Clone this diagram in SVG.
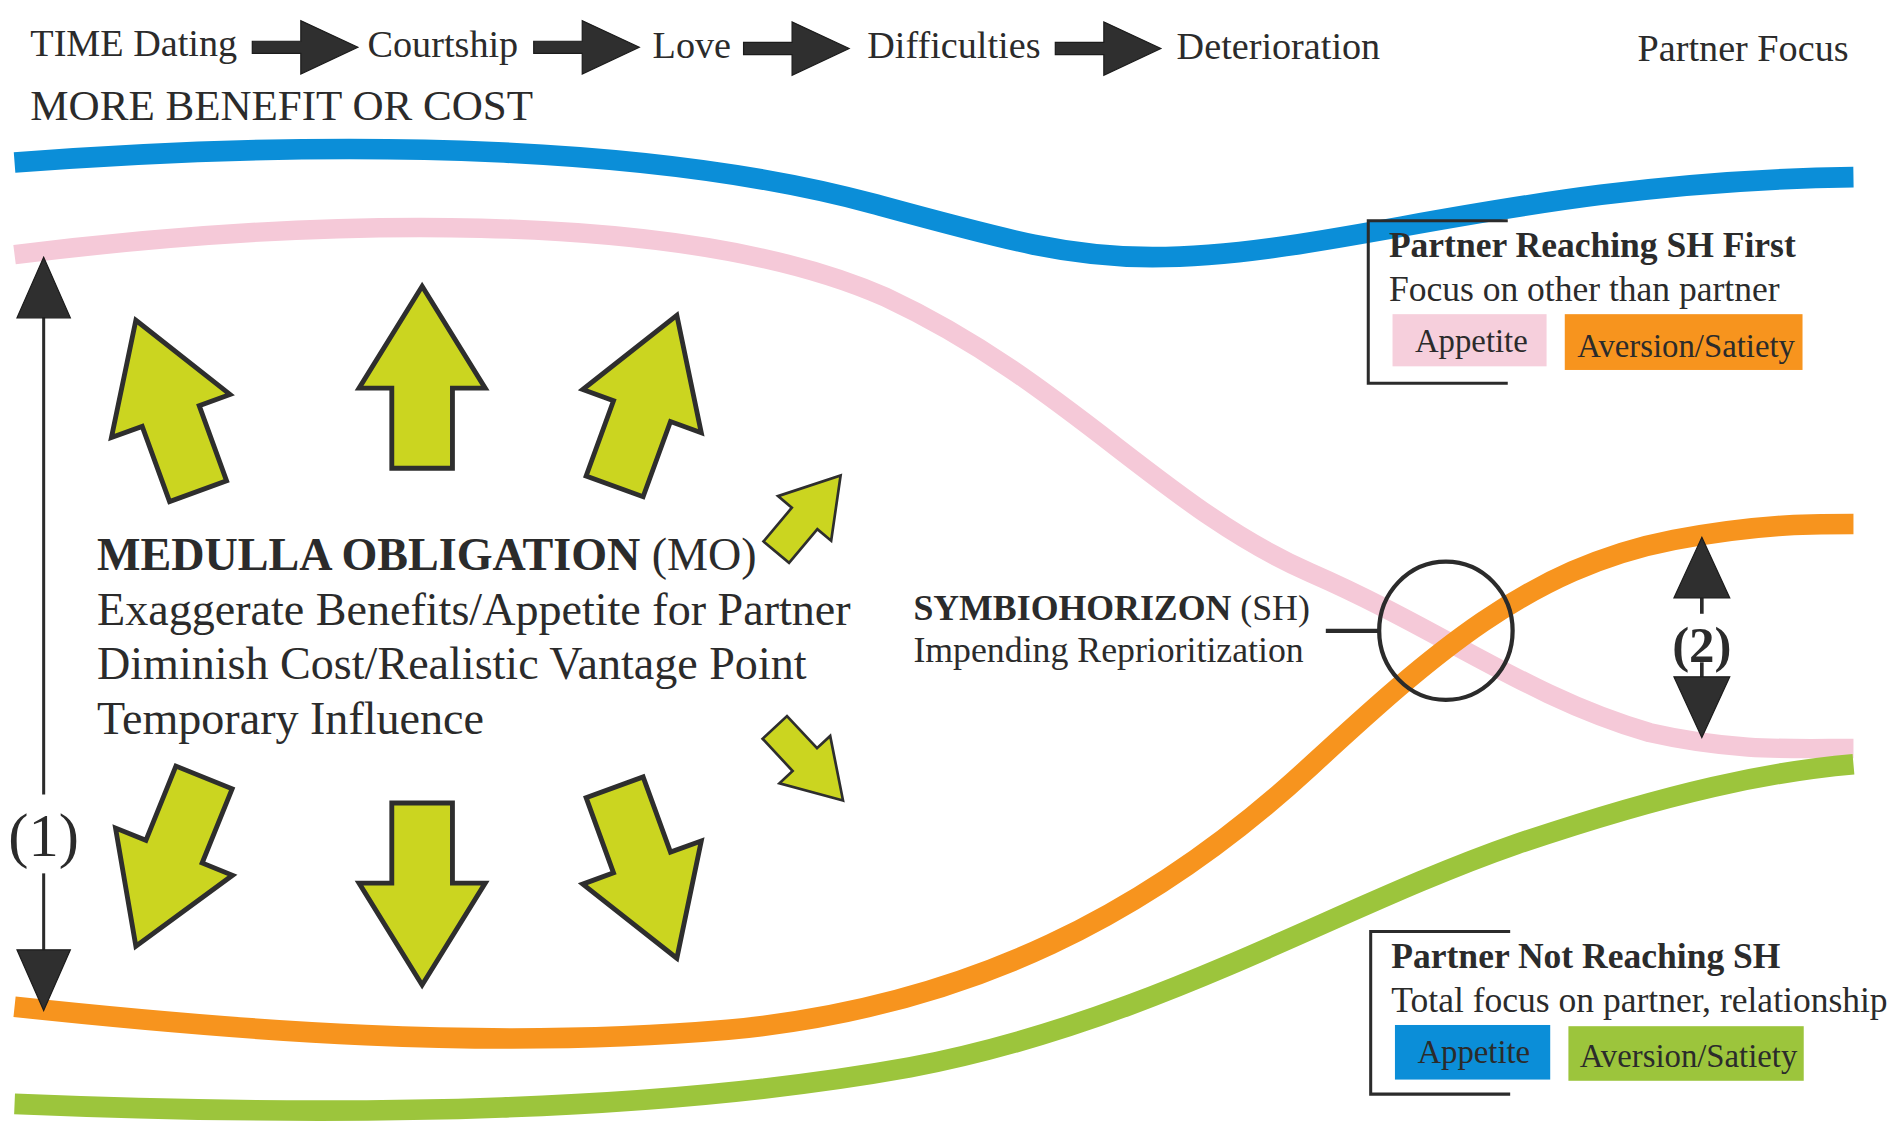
<svg xmlns="http://www.w3.org/2000/svg" width="1902" height="1127" viewBox="0 0 1902 1127">
<defs>
<style>
text{font-family:"Liberation Serif","Times New Roman",serif;fill:#2b2b2b}
.b{font-weight:bold}
.curve{fill:none;stroke-linecap:butt}
.ga{fill:#cbd520;stroke:#2e2e2e;stroke-width:4;stroke-linejoin:miter}
.ta{fill:#2f2f2f;stroke:#1c1c1c;stroke-width:1}
.ln{stroke:#2b2b2b;fill:none}
</style>
<path id="bigArrow" d="M0,0 L52,84 L25,84 L25,150 L-25,150 L-25,84 L-52,84 Z"/>
<path id="tlArrow" d="M0,-5 L40,-5 L40,-22 L87,0 L40,22 L40,5 L0,5 Z"/>
</defs>
<rect width="1902" height="1127" fill="#ffffff"/>
<g transform="scale(1.2130)">
<g id="curves">
<path id="blue-curve" class="curve" stroke="#0b8ed8" stroke-width="17" d="M12,134 C300,112 550,122 720,168 C830,198 880,212 950,212 C1100,212 1250,150 1528,146"/>
<path id="pink-curve" class="curve" stroke="#f5c9d8" stroke-width="16" d="M12,210 C250,180 560,170 730,245 C880,315 960,420 1080,472 C1190,520 1260,575 1360,604 C1430,620 1480,617 1528,617"/>
<path id="orange-curve" class="curve" stroke="#f7941e" stroke-width="17" d="M12,830 C200,850 400,866 600,849 C800,830 950,752 1080,632 C1180,540 1260,468 1380,445 C1450,432 1490,432 1528,432"/>
<path id="green-curve" class="curve" stroke="#9cc53c" stroke-width="17" d="M12,910 C300,922 550,916 750,880 C950,842 1100,748 1250,696 C1380,652 1460,636 1528,630"/>
</g>
<g id="connectors">
<use href="#tlArrow" class="ta" x="208" y="39"/>
<use href="#tlArrow" class="ta" x="440" y="39"/>
<use href="#tlArrow" class="ta" x="613" y="40"/>
<use href="#tlArrow" class="ta" x="870" y="40"/>
<g id="arrow-1">
<line class="ln" x1="36" y1="260" x2="36" y2="655" stroke-width="2.5"/>
<line class="ln" x1="36" y1="720" x2="36" y2="785" stroke-width="2.5"/>
<path class="ta" d="M36,212 L58,262 L14,262 Z"/>
<path class="ta" d="M36,833 L58,783 L14,783 Z"/>
</g>
<g id="arrow-2">
<line class="ln" x1="1403" y1="490" x2="1403" y2="506" stroke-width="3"/>
<line class="ln" x1="1403" y1="546" x2="1403" y2="560" stroke-width="3"/>
<path class="ta" d="M1403,443 L1426,493 L1380,493 Z"/>
<path class="ta" d="M1403,608 L1426,558 L1380,558 Z"/>
</g>
<line id="sh-pointer" class="ln" x1="1093" y1="520" x2="1137" y2="520" stroke-width="3.5"/>
</g>
<g id="timeline">
<text x="25" y="46" font-size="31.5">TIME Dating</text>
<text x="303" y="47" font-size="31.5">Courtship</text>
<text x="538" y="48" font-size="31.5">Love</text>
<text x="715" y="48" font-size="31.5">Difficulties</text>
<text x="970" y="49" font-size="31.5">Deterioration</text>
<text x="1350" y="50" font-size="31.5">Partner Focus</text>
<text x="25" y="99" font-size="35.5">MORE BENEFIT OR COST</text>
</g>
<g id="mo-arrows">
<use href="#bigArrow" class="ga" transform="translate(348,236)"/>
<use href="#bigArrow" class="ga" transform="translate(112,264) rotate(-20)"/>
<use href="#bigArrow" class="ga" transform="translate(558,260) rotate(20)"/>
<use href="#bigArrow" class="ga" transform="translate(693,392) rotate(40) scale(0.55)"/>
<use href="#bigArrow" class="ga" transform="translate(348,812) rotate(180)"/>
<use href="#bigArrow" class="ga" transform="translate(112,780) rotate(202)"/>
<use href="#bigArrow" class="ga" transform="translate(558,790) rotate(160)"/>
<use href="#bigArrow" class="ga" transform="translate(695,660) rotate(137) scale(0.55)"/>
</g>
<g id="mo-text">
<text x="80" y="470" font-size="38"><tspan class="b">MEDULLA OBLIGATION</tspan> (MO)</text>
<text x="80" y="515" font-size="38">Exaggerate Benefits/Appetite for Partner</text>
<text x="80" y="560" font-size="38">Diminish Cost/Realistic Vantage Point</text>
<text x="80" y="605" font-size="38">Temporary Influence</text>
</g>
<g id="label-1"><text x="36" y="706" font-size="50" text-anchor="middle">(1)</text></g>
<g id="label-2"><text x="1403" y="546" font-size="42" text-anchor="middle" class="b">(2)</text></g>
<g id="symbiohorizon">
<ellipse cx="1192" cy="520" rx="55" ry="57" fill="none" stroke="#2b2b2b" stroke-width="3.5"/>
<text x="753" y="511" font-size="29.5"><tspan class="b">SYMBIOHORIZON</tspan> (SH)</text>
<text x="753" y="546" font-size="29.5">Impending Reprioritization</text>
</g>
<g id="legend-reaching">
<path class="ln" stroke-width="2.5" d="M1243,182 H1128 V316 H1243"/>
<text x="1145" y="212" font-size="29.3" class="b">Partner Reaching SH First</text>
<text x="1145" y="248" font-size="29.3">Focus on other than partner</text>
<rect x="1148" y="259" width="127" height="43" fill="#f6cfdc"/>
<text x="1213" y="290" font-size="27" text-anchor="middle">Appetite</text>
<rect x="1290" y="259" width="196" height="46" fill="#f7941e"/>
<text x="1390" y="294" font-size="27" text-anchor="middle">Aversion/Satiety</text>
</g>
<g id="legend-not-reaching">
<path class="ln" stroke-width="2.5" d="M1245,768 H1130 V902 H1245"/>
<text x="1147" y="798" font-size="29.3" class="b">Partner Not Reaching SH</text>
<text x="1147" y="834" font-size="29.3">Total focus on partner, relationship</text>
<rect x="1150" y="845" width="128" height="45" fill="#0b8ed8"/>
<text x="1215" y="876" font-size="27" text-anchor="middle">Appetite</text>
<rect x="1293" y="846" width="194" height="45" fill="#9cc53c"/>
<text x="1392" y="880" font-size="27" text-anchor="middle">Aversion/Satiety</text>
</g>
</g>
</svg>
